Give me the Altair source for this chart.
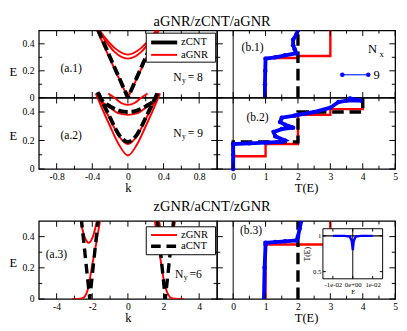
import altair as alt
import pandas as pd

FONT = "Liberation Serif"
RED = "#ff0000"
BLUE = "#0000ff"
BLACK = "#000000"

TITLE_TOP = "aGNR/zCNT/aGNR"
TITLE_BOTTOM = "zGNR/aCNT/zGNR"

# ================= data =================
# (a.1) aGNR/zCNT/aGNR, Ny = 8 : bands E(k)
a1_zcnt_k = [-0.40, -0.20, 0.00, 0.20, 0.40]
a1_zcnt_E = [0.60, 0.30, 0.00, 0.30, 0.60]
a1_agnr_v_k = [-0.42, -0.21, 0.00, 0.21, 0.42]
a1_agnr_v_E = [0.61, 0.30, 0.00, 0.30, 0.61]
a1_agnr_p_k = [-0.45, -0.35, -0.25, -0.15, 0.00, 0.15, 0.25, 0.35, 0.45]
a1_agnr_p1_E = [0.62, 0.53, 0.44, 0.37, 0.32, 0.37, 0.44, 0.53, 0.62]
a1_agnr_p2_E = [0.61, 0.52, 0.42, 0.34, 0.29, 0.34, 0.42, 0.52, 0.61]

# (a.2) Ny = 9
a2_zcnt1_k = [-0.34, -0.30, -0.20, -0.10, 0.00, 0.10, 0.20, 0.30, 0.34]
a2_zcnt1_E = [0.54, 0.49, 0.36, 0.24, 0.19, 0.24, 0.36, 0.49, 0.54]
a2_zcnt2_k = [-0.33, -0.30, -0.20, -0.10, 0.00, 0.10, 0.20, 0.30, 0.33]
a2_zcnt2_E = [0.53, 0.49, 0.44, 0.41, 0.40, 0.41, 0.44, 0.49, 0.53]
a2_agnr1_k = [-0.36, -0.30, -0.20, -0.10, 0.00, 0.10, 0.20, 0.30, 0.36]
a2_agnr1_E = [0.53, 0.44, 0.30, 0.17, 0.095, 0.17, 0.30, 0.44, 0.53]
a2_agnr2_k = [-0.35, -0.31, -0.20, -0.10, 0.00, 0.10, 0.20, 0.31, 0.35]
a2_agnr2_E = [0.53, 0.48, 0.35, 0.23, 0.175, 0.23, 0.35, 0.48, 0.53]
a2_agnr3_k = [-0.35, -0.30, -0.20, -0.10, 0.00, 0.10, 0.20, 0.30, 0.35]
a2_agnr3_E = [0.53, 0.48, 0.43, 0.39, 0.38, 0.39, 0.43, 0.48, 0.53]
a2_agnr4_k = [-0.22, -0.15, -0.08, 0.00, 0.08, 0.15, 0.22]
a2_agnr4_E = [0.53, 0.50, 0.465, 0.45, 0.465, 0.50, 0.53]

# (a.3) zGNR/aCNT/zGNR, Ny = 6
a3_acnt_l_k = [-2.62, -2.14, -1.66]
a3_acnt_l_E = [0.52, 0.00, 0.52]
a3_acnt_r_k = [1.64, 2.10, 2.58]
a3_acnt_r_E = [0.52, 0.00, 0.52]
a3_zgnr_el_k = [-3.14, -2.80, -2.55, -2.40, -2.28, -2.15, -2.00, -1.85, -1.70, -1.55]
a3_zgnr_el_E = [0.00, 0.00, 0.005, 0.02, 0.05, 0.12, 0.22, 0.31, 0.41, 0.51]
a3_zgnr_er_k = [1.50, 1.68, 1.85, 2.00, 2.15, 2.28, 2.45, 2.80, 3.14]
a3_zgnr_er_E = [0.51, 0.37, 0.24, 0.13, 0.06, 0.025, 0.005, 0.00, 0.00]
a3_zgnr_ul_k = [-2.75, -2.60, -2.40, -2.20, -2.00, -1.80, -1.65]
a3_zgnr_ul_E = [0.56, 0.47, 0.39, 0.36, 0.39, 0.47, 0.56]
a3_zgnr_ur_k = [1.65, 1.80, 2.00, 2.20, 2.40, 2.60, 2.75]
a3_zgnr_ur_E = [0.56, 0.47, 0.39, 0.36, 0.39, 0.47, 0.56]

# (b.1) transmission T(E)
b1_agnr_T = [1, 1, 2, 2, 3, 3]
b1_agnr_E = [0.0, 0.295, 0.295, 0.31, 0.31, 0.5]
b1_zcnt_T = [2, 2]
b1_zcnt_E = [0.0, 0.5]
b1_n9_T = [0.98, 0.98, 0.99, 1.0, 1.3, 1.6, 1.95, 1.9, 1.85, 1.85, 1.95, 2.0]
b1_n9_E = [0.0, 0.1, 0.2, 0.29, 0.30, 0.315, 0.33, 0.36, 0.39, 0.43, 0.47, 0.5]

# (b.2)
b2_agnr_T = [0, 0, 1, 1, 2, 2, 3, 3, 4, 4]
b2_agnr_E = [0.0, 0.09, 0.09, 0.175, 0.175, 0.38, 0.38, 0.42, 0.42, 0.5]
b2_zcnt_T = [0, 0, 2, 2, 4, 4]
b2_zcnt_E = [0.0, 0.19, 0.19, 0.40, 0.40, 0.5]
b2_n9_T = [0, 0, 0, 0.5, 1.0, 1.5, 1.6, 1.3, 1.25, 1.5, 1.85, 1.6, 1.45, 1.5, 1.9, 2.0, 2.5, 3.0, 3.25, 3.5, 3.95, 3.6]
b2_n9_E = [0.0, 0.1, 0.175, 0.18, 0.185, 0.19, 0.2, 0.23, 0.26, 0.28, 0.29, 0.31, 0.33, 0.36, 0.375, 0.38, 0.40, 0.43, 0.47, 0.48, 0.48, 0.495]

# (b.3)
b3_zgnr_T = [1, 1, 3, 3]
b3_zgnr_E = [0.0, 0.35, 0.35, 0.5]
b3_acnt_T = [2, 2]
b3_acnt_E = [0.0, 0.5]
b3_n_T = [0.95, 0.97, 1.0, 1.0, 1.3, 1.6, 1.95, 2.0, 2.05, 2.1]
b3_n_E = [0.0, 0.2, 0.35, 0.36, 0.365, 0.37, 0.375, 0.4, 0.45, 0.5]

# inset of (b.3)
ins_E = [-0.01, -0.004, -0.0015, -0.0005, 0.0, 0.0005, 0.0015, 0.004, 0.01]
ins_T = [1.0, 1.0, 0.99, 0.93, 0.80, 0.93, 0.99, 1.0, 1.0]

# tick values
k_small_major = [-0.8, -0.4, 0, 0.4, 0.8]
k_small_minor = [-0.6, -0.2, 0.2, 0.6]
k_big_major = [-4, -2, 0, 2, 4]
k_big_minor = [-3, -1, 1, 3]
T_major = [0, 1, 2, 3, 4, 5]
T_minor = [0.5, 1.5, 2.5, 3.5, 4.5]
E_major = [0, 0.2, 0.4]
E_minor = [0.1, 0.3]
ins_x_ticks = [-0.01, 0, 0.01]
ins_y_ticks = [0.5, 1]

T_DOMAIN = [-0.5, 5.0001]
WA, WB = 185, 185
H1, H2, HGAP, H3 = 70, 74, 54, 81


# ================= helpers =================
def sc(dom, rng=None):
    if rng is None:
        return alt.Scale(domain=dom, nice=False, zero=False)
    return alt.Scale(domain=dom, range=rng, nice=False, zero=False)


def frame(curves):
    rows = []
    for name, xs, ys in curves:
        for i, (x, y) in enumerate(zip(xs, ys)):
            rows.append({"s": name, "i": i, "x": x, "y": y})
    return pd.DataFrame(rows)


def ex(P):
    return alt.X("x:Q", scale=P["xs"], axis=P["xa"])


def ey(P):
    return alt.Y("y:Q", scale=P["ys"], axis=P["ya"])


def lines(P, curves, color, width, dash=None, interp="linear", clip=True, point=None):
    kw = dict(color=color, strokeWidth=width, clip=clip, interpolate=interp)
    if dash is not None:
        kw["strokeDash"] = dash
    if point is not None:
        kw["point"] = point
    return alt.Chart(frame(curves)).mark_line(**kw).encode(
        x=ex(P), y=ey(P), detail="s:N", order="i:Q")


def text(P, x, y, s, size=12, align="center", dx=0, dy=0):
    d = pd.DataFrame({"x": [x], "y": [y], "t": [s]})
    return alt.Chart(d).mark_text(font=FONT, fontSize=size, align=align, baseline="middle",
                                  dx=dx, dy=dy, color="black").encode(x=ex(P), y=ey(P), text="t:N")


def hseg(P, x1, x2, y, color, width, dash=None):
    d = pd.DataFrame({"x": [x1], "x2": [x2], "y": [y]})
    kw = dict(color=color, strokeWidth=width)
    if dash is not None:
        kw["strokeDash"] = dash
    return alt.Chart(d).mark_rule(**kw).encode(x=ex(P), x2="x2:Q", y=ey(P))


def vseg(P, x, y1, y2, color="black", width=1):
    d = pd.DataFrame({"x": [x], "y": [y1], "y2": [y2]})
    return alt.Chart(d).mark_rule(color=color, strokeWidth=width).encode(x=ex(P), y=ey(P), y2="y2:Q")


def box(P, x1, x2, y1, y2):
    d = pd.DataFrame({"x": [x1], "x2": [x2], "y": [y1], "y2": [y2]})
    return alt.Chart(d).mark_rect(fill="white", stroke="black", strokeWidth=1).encode(
        x=ex(P), x2="x2:Q", y=ey(P), y2="y2:Q")


def dots(P, xs, ys, color, size):
    d = pd.DataFrame({"x": xs, "y": ys})
    return alt.Chart(d).mark_point(filled=True, color=color, size=size, opacity=1).encode(x=ex(P), y=ey(P))


def ticks(P, W, H, xmaj, xmin, ymaj, ymin, LM=6, Lm=3.5, y0=0, x0=0):
    out = []
    for vals, L in ((xmaj, LM), (xmin, Lm)):
        if not vals:
            continue
        d = pd.DataFrame({"x": vals})
        out.append(alt.Chart(d).mark_rule(color="black", strokeWidth=1).encode(
            x=ex(P), y=alt.value(H), y2=alt.value(H - L)))
        out.append(alt.Chart(d).mark_rule(color="black", strokeWidth=1).encode(
            x=ex(P), y=alt.value(y0), y2=alt.value(y0 + L)))
    for vals, L in ((ymaj, LM), (ymin, Lm)):
        if not vals:
            continue
        d = pd.DataFrame({"y": vals})
        out.append(alt.Chart(d).mark_rule(color="black", strokeWidth=1).encode(
            y=ey(P), x=alt.value(x0), x2=alt.value(x0 + L)))
        out.append(alt.Chart(d).mark_rule(color="black", strokeWidth=1).encode(
            y=ey(P), x=alt.value(W), x2=alt.value(W - L)))
    return out


HIDDEN = alt.Axis(labels=False, ticks=False, domain=False, grid=False, title=None)


def x_axis(vals, title):
    return alt.Axis(values=vals, tickCount=len(vals) + 2, labelExpr="'' + datum.value", ticks=False,
                    tickSize=0, domain=False, grid=False, labelFont=FONT, labelFontSize=10,
                    labelColor="black", labelPadding=3, labelFlush=False, labelOverlap=False,
                    labelBound=False, title=title, titleFont=FONT, titleFontSize=13,
                    titleFontWeight="normal", titleColor="black", titlePadding=0)


def y_axis(vals, title_y):
    return alt.Axis(values=vals, tickCount=len(vals) + 2, labelExpr="'' + datum.value", ticks=False,
                    tickSize=0, domain=False, grid=False, labelFont=FONT, labelFontSize=10,
                    labelColor="black", labelPadding=5, labelOverlap=False, title="E", titleFont=FONT,
                    titleFontSize=13, titleFontWeight="normal", titleColor="black", titleAngle=0,
                    titleAlign="right", titleBaseline="middle", titleX=-23, titleY=title_y)


def ny_label(P, x, y, val, gap=" = "):
    return [text(P, x, y, "N", 12, "left"),
            text(P, x, y, "y", 8, "left", dx=9, dy=4),
            text(P, x, y, gap.lstrip() + val, 12, "left", dx=15)]


def title_text(s, x, y, baseline):
    d = pd.DataFrame({"t": [s]})
    return alt.Chart(d).mark_text(font=FONT, fontSize=15, color="black", align="center",
                                  baseline=baseline).encode(text="t:N", x=alt.value(x), y=alt.value(y))


blue_pt = alt.OverlayMarkDef(filled=True, fill=BLUE, size=22, opacity=1)

# ================= (a.1) =================
P = dict(xs=sc([-1, 1]), ys=sc([0, 0.5]), xa=HIDDEN, ya=y_axis(E_major, 43))
a1 = alt.layer(
    lines(P, [("v", a1_agnr_v_k, a1_agnr_v_E)], RED, 2),
    lines(P, [("p1", a1_agnr_p_k, a1_agnr_p1_E), ("p2", a1_agnr_p_k, a1_agnr_p2_E)], RED, 2,
          interp="monotone"),
    lines(P, [("z", a1_zcnt_k, a1_zcnt_E)], BLACK, 4, dash=[10, 4]),
    *ticks(P, WA, H1, k_small_major, k_small_minor, E_major, E_minor),
    box(P, 0.206, 0.985, 0.264, 0.479),
    hseg(P, 0.261, 0.553, 0.41, BLACK, 4),
    hseg(P, 0.261, 0.553, 0.318, RED, 2),
    text(P, 0.596, 0.41, "zCNT", 11, "left"),
    text(P, 0.596, 0.318, "aGNR", 11, "left"),
    text(P, -0.637, 0.22, "(a.1)", 12),
    *ny_label(P, 0.509, 0.154, "8"),
    title_text(TITLE_TOP, 180, -4, "alphabetic"),
).properties(width=WA, height=H1)

# ================= (b.1) =================
P = dict(xs=sc(T_DOMAIN), ys=sc([0, 0.5]), xa=HIDDEN, ya=HIDDEN)
b1 = alt.layer(
    vseg(P, 0, 0, 0.5, BLACK, 1),
    lines(P, [("r", b1_agnr_T, b1_agnr_E)], RED, 2.5),
    lines(P, [("z", b1_zcnt_T, b1_zcnt_E)], BLACK, 3.5, dash=[12, 6]),
    lines(P, [("n", b1_n9_T, b1_n9_E)], BLUE, 4, point=blue_pt),
    *ticks(P, WB, H1, T_major, T_minor, E_major, E_minor),
    text(P, 0.6, 0.374, "(b.1)", 12),
    text(P, 4.16, 0.357, "N", 13, "left"),
    text(P, 4.16, 0.357, "x", 9, "left", dx=12, dy=5),
    hseg(P, 3.37, 4.17, 0.171, "#3050ff", 1.5),
    dots(P, [3.37, 4.17], [0.171, 0.171], BLUE, 22),
    text(P, 4.33, 0.171, "9", 13, "left"),
).properties(width=WB, height=H1)

# ================= (a.2) =================
P = dict(xs=sc([-1, 1]), ys=sc([0, 0.5]), xa=x_axis(k_small_major, "k"), ya=y_axis(E_major, 39))
a2 = alt.layer(
    lines(P, [("r1", a2_agnr1_k, a2_agnr1_E), ("r2", a2_agnr2_k, a2_agnr2_E),
              ("r3", a2_agnr3_k, a2_agnr3_E), ("r4", a2_agnr4_k, a2_agnr4_E)],
          RED, 2, interp="monotone", clip=False),
    lines(P, [("z1", a2_zcnt1_k, a2_zcnt1_E), ("z2", a2_zcnt2_k, a2_zcnt2_E)],
          BLACK, 4, dash=[10, 4], interp="monotone", clip=False),
    *ticks(P, WA, H2, k_small_major, k_small_minor, E_major, E_minor),
    text(P, -0.637, 0.239, "(a.2)", 12),
    *ny_label(P, 0.51, 0.25, "9"),
).properties(width=WA, height=H2)

# ================= (b.2) =================
P = dict(xs=sc(T_DOMAIN), ys=sc([0, 0.5]), xa=x_axis(T_major, "T(E)"), ya=HIDDEN)
b2 = alt.layer(
    vseg(P, 0, 0, 0.5, BLACK, 1),
    lines(P, [("r", b2_agnr_T, b2_agnr_E)], RED, 2.5),
    lines(P, [("z", b2_zcnt_T, b2_zcnt_E)], BLACK, 3.5, dash=[12, 6]),
    lines(P, [("n", b2_n9_T, b2_n9_E)], BLUE, 4, point=blue_pt, clip=False),
    *ticks(P, WB, H2, T_major, T_minor, E_major, E_minor),
    text(P, 0.75, 0.365, "(b.2)", 12),
).properties(width=WB, height=H2)

# ================= spacer row holding the second title =================
gap_view = alt.ViewBackground(strokeOpacity=0)
spA = title_text(TITLE_BOTTOM, 180, 44, "alphabetic").properties(width=WA, height=HGAP, view=gap_view)
spB = alt.Chart(pd.DataFrame({"t": [""]})).mark_text().encode(
    text="t:N", x=alt.value(0), y=alt.value(0)).properties(width=WB, height=HGAP, view=gap_view)

# ================= (a.3) =================
P = dict(xs=sc([-5, 5]), ys=sc([0, 0.5]), xa=x_axis(k_big_major, "k"), ya=y_axis(E_major, 43))
a3 = alt.layer(
    lines(P, [("el", a3_zgnr_el_k, a3_zgnr_el_E), ("er", a3_zgnr_er_k, a3_zgnr_er_E),
              ("ul", a3_zgnr_ul_k, a3_zgnr_ul_E), ("ur", a3_zgnr_ur_k, a3_zgnr_ur_E)],
          RED, 2, interp="monotone"),
    lines(P, [("l", a3_acnt_l_k, a3_acnt_l_E), ("r", a3_acnt_r_k, a3_acnt_r_E)],
          BLACK, 3.5, dash=[10, 6]),
    *ticks(P, WA, H3, k_big_major, k_big_minor, E_major, E_minor),
    box(P, 1.03, 4.92, 0.284, 0.463),
    hseg(P, 1.30, 2.76, 0.41, RED, 2),
    hseg(P, 1.30, 2.76, 0.338, BLACK, 3.5, dash=[10, 6]),
    text(P, 2.98, 0.41, "zGNR", 11, "left"),
    text(P, 2.98, 0.338, "aCNT", 11, "left"),
    text(P, -4.01, 0.286, "(a.3)", 12),
    *ny_label(P, 2.65, 0.162, "6", gap="="),
).properties(width=WA, height=H3)

# ================= (b.3) with inset =================
P = dict(xs=sc(T_DOMAIN), ys=sc([0, 0.5]), xa=x_axis(T_major, "T(E)"), ya=HIDDEN)
b3_main = alt.layer(
    vseg(P, 0, 0, 0.5, BLACK, 1),
    lines(P, [("r", b3_zgnr_T, b3_zgnr_E)], RED, 2.5),
    lines(P, [("z", b3_acnt_T, b3_acnt_E)], BLACK, 3.5, dash=[12, 6]),
    lines(P, [("n", b3_n_T, b3_n_E)], BLUE, 4, point=blue_pt),
    *ticks(P, WB, H3, T_major, T_minor, E_major, E_minor),
    text(P, 0.55, 0.44, "(b.3)", 12),
)

in_xaxis = alt.Axis(orient="bottom", offset=-21, values=ins_x_ticks, tickCount=6,
                    labelExpr="datum.value == 0 ? '0e+00' : (datum.value < 0 ? '-1e-02' : '1e-02')",
                    ticks=False, tickSize=0, domain=False, grid=False, labelFont=FONT, labelFontSize=7,
                    labelColor="black", labelPadding=2, labelFlush=False, labelOverlap=False,
                    title="E", titleFont=FONT, titleFontSize=7, titleFontWeight="normal",
                    titleColor="black", titlePadding=0)
in_yaxis = alt.Axis(orient="left", offset=-110, values=ins_y_ticks, tickCount=5,
                    labelExpr="'' + datum.value",
                    ticks=False, tickSize=0, domain=False, grid=False, labelFont=FONT, labelFontSize=7,
                    labelColor="black", labelPadding=2, labelOverlap=False,
                    title="T(E)", titleFont=FONT, titleFontSize=8, titleFontWeight="normal",
                    titleColor="black", titlePadding=1)
Q = dict(xs=sc([-0.015, 0.015], [110, 172]), ys=sc([0.4, 1.1], [60, 8]), xa=in_xaxis, ya=in_yaxis)
inset = alt.layer(
    box(Q, -0.015, 0.015, 0.4, 1.1),
    hseg(Q, -0.015, 0.015, 1.0, BLACK, 1.5),
    vseg(Q, 0, 0.4, 1.1, BLACK, 1),
    lines(Q, [("i", ins_E, ins_T)], BLUE, 2.5),
    *ticks(Q, 172, 60, ins_x_ticks, [], ins_y_ticks, [], LM=3, Lm=2, y0=8, x0=110),
)
b3 = alt.layer(b3_main, inset).resolve_scale(x="independent", y="independent").properties(
    width=WB, height=H3)

# ================= assembly =================
chart = alt.concat(a1, b1, a2, b2, spA, spB, a3, b3, columns=2, spacing=0, bounds="flush",
                   align="each").properties(
    padding={"left": 0, "top": 0, "right": 0, "bottom": 0}
).configure_view(stroke="black", strokeWidth=1.3)

chart.save("out.html", embed_options={"renderer": "svg", "actions": False})
